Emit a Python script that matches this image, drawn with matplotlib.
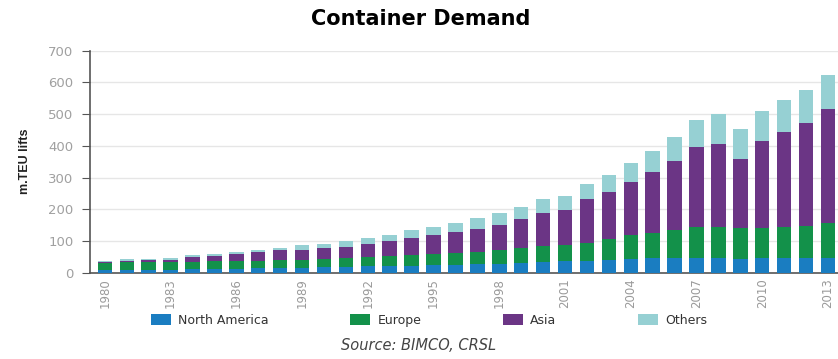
import matplotlib
matplotlib.use("Agg")
import matplotlib.pyplot as plt
import numpy as np

years = list(range(1980, 2014))
north_america = [8, 9, 9, 10, 11, 12, 13, 14, 15, 16, 18, 19, 20, 21, 22, 23, 25, 27, 28, 30,
                 33, 36, 38, 41, 43, 45, 47, 47, 47, 43, 45, 46, 47, 47]
europe = [24, 24, 24, 24, 24, 24, 24, 24, 24, 24, 24, 26, 30, 32, 34, 36, 38, 39, 44, 47,
          51, 51, 55, 64, 76, 81, 88, 96, 96, 97, 95, 99, 100, 111]
asia = [2, 4, 6, 7, 15, 18, 22, 26, 31, 32, 35, 37, 40, 47, 53, 61, 65, 73, 79, 91,
        105, 111, 138, 148, 167, 192, 217, 252, 262, 219, 276, 300, 324, 358]
others = [4, 5, 5, 5, 5, 6, 7, 8, 9, 14, 15, 19, 19, 20, 25, 25, 30, 35, 36, 40,
          42, 45, 49, 55, 61, 67, 77, 87, 95, 93, 94, 98, 105, 108]
series_names = ["North America", "Europe", "Asia", "Others"]
colors = ["#1a7dc1", "#13914a", "#6b3585", "#96d0d3"]
tick_years = list(range(1980, 2014, 3))

fig = plt.figure(figsize=(8.38, 3.59), dpi=100)
ax = fig.add_axes([0.1074, 0.2404, 0.8926, 0.6184])

bottom = np.zeros(len(years))
for name, vals, c in zip(series_names, [north_america, europe, asia, others], colors):
    ax.bar(years, vals, bottom=bottom, width=0.66, color=c, label=name, zorder=3)
    bottom += np.array(vals)

ax.set_xlim(1979.32, 2013.46)
ax.set_ylim(0, 700)
ax.set_yticks(range(0, 701, 100))
ax.yaxis.grid(True, color="#e6e6e6", linewidth=1.0, zorder=0)
ax.set_axisbelow(True)
for s in ["top", "right"]:
    ax.spines[s].set_visible(False)
ax.spines["left"].set_color("#555555")
ax.spines["bottom"].set_color("#555555")
ax.spines["left"].set_linewidth(1.2)
ax.spines["bottom"].set_linewidth(1.2)

ax.set_xticks(tick_years)
ax.set_xticklabels([str(y) for y in tick_years], rotation=90, fontsize=8.5, color="#9a9a9a")
ax.tick_params(axis="x", length=0, pad=4)
ax.tick_params(axis="y", length=6, color="#555555", labelsize=9.5, labelcolor="#a0a0a0", pad=6)

ax.set_ylabel("m.TEU lifts", fontsize=9, fontweight="bold", family="Liberation Sans",
              color="#222222", labelpad=12)

fig.text(0.502, 0.948, "Container Demand", ha="center", va="center",
         fontsize=15, fontweight="bold", color="#000000")

fig.legend(loc="center", bbox_to_anchor=(0.512, 0.108), ncol=4, frameon=False,
           fontsize=9, handlelength=1.6, handleheight=1.0, columnspacing=6.5,
           handletextpad=0.6, labelcolor="#333333")

fig.text(0.50, 0.038, "Source: BIMCO, CRSL", ha="center", va="center",
         fontsize=10.5, style="italic", color="#444444")

fig.savefig("out.png", dpi=100)
